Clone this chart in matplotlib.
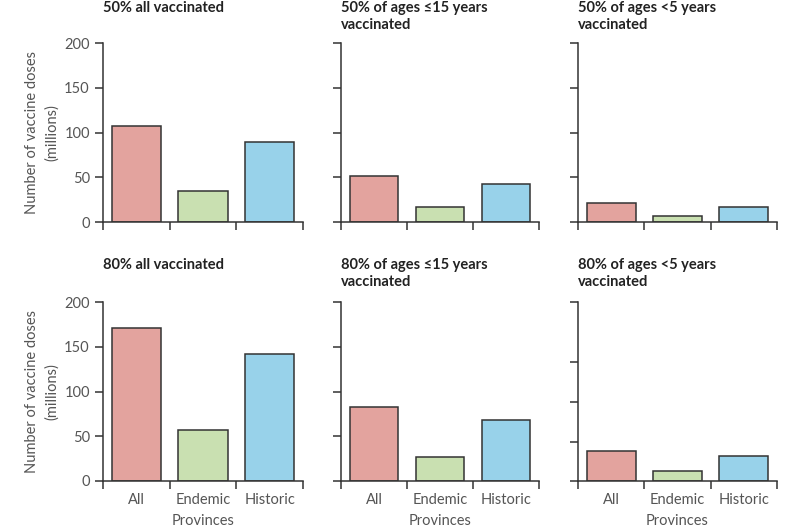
# Vaccine dose requirements by province group, six coverage scenarios
import numpy as np
import matplotlib
matplotlib.use("Agg")
import matplotlib.pyplot as plt

plt.rcParams['font.family'] = ['Lato', 'DejaVu Sans']

provinces = ["All", "Endemic", "Historic"]
bar_colors = ["#e3a39e", "#c9e0b1", "#98d2ea"]

titles_top = ["50% all vaccinated", "50% of ages \u226415 years\nvaccinated", "50% of ages <5 years\nvaccinated"]
titles_bottom = ["80% all vaccinated", "80% of ages \u226415 years\nvaccinated", "80% of ages <5 years\nvaccinated"]

# doses in millions
doses_50_all = [107, 35, 89]
doses_50_u15 = [51, 17, 42]
doses_50_u5 = [21, 7, 17]
doses_80_all = [171, 57, 142]
doses_80_u15 = [83, 27, 68]
doses_80_u5 = [34, 11, 28]

rows = [[doses_50_all, doses_50_u15, doses_50_u5],
        [doses_80_all, doses_80_u15, doses_80_u5]]
titles = [titles_top, titles_bottom]

fig = plt.figure(figsize=(8, 5.3), dpi=100)

lefts = [103, 341, 578]
widths = [200, 198, 199]
row_top = [43, 302]   # pixel y of axis top
ax_h = 179
W, H = 800, 530
dark = "#333333"
grey = "#555555"

for r in range(2):
    for c in range(3):
        ax = fig.add_axes([lefts[c] / W, 1 - (row_top[r] + ax_h) / H, widths[c] / W, ax_h / H])
        x = np.arange(len(provinces)) + 0.5
        ax.bar(x, rows[r][c], width=0.74, color=bar_colors, edgecolor=dark, linewidth=1.1, zorder=2)
        ax.set_xlim(0, 3)
        ax.set_ylim(0, 200)
        for s in ["top", "right"]:
            ax.spines[s].set_visible(False)
        for s in ["left", "bottom"]:
            ax.spines[s].set_color(dark)
            ax.spines[s].set_linewidth(1.1)
        ax.set_xticks([0, 1, 2, 3])
        ax.set_xticklabels([])
        ax.tick_params(axis="both", which="major", length=6, width=1.1, color=dark,
                       labelsize=10.5, labelcolor=grey)
        if r == 1 and c == 2:
            # the original panel has irregular tick spacing
            ax.set_yticks([0, 44, 88, 133, 200])
        else:
            ax.set_yticks([0, 50, 100, 150, 200])
        if c == 0:
            ax.set_ylabel("Number of vaccine doses\n(millions)", fontsize=10.5, color=grey,
                          labelpad=4, linespacing=1.45)
        else:
            ax.set_yticklabels([])
        if r == 1:
            ax.set_xticks(x, minor=True)
            ax.set_xticklabels(provinces, minor=True)
            ax.tick_params(axis="x", which="minor", length=0, labelsize=10.5, labelcolor=grey, pad=9)
            ax.set_xlabel("Provinces", fontsize=10.5, color=grey, labelpad=5)
        ty = 1 if r == 0 else 258
        fig.text(lefts[c] / W, 1 - ty / H, titles[r][c], ha="left", va="top",
                 fontsize=10.5, fontweight="bold", color="#222222", linespacing=1.3)

fig.savefig("out.png", dpi=100)
